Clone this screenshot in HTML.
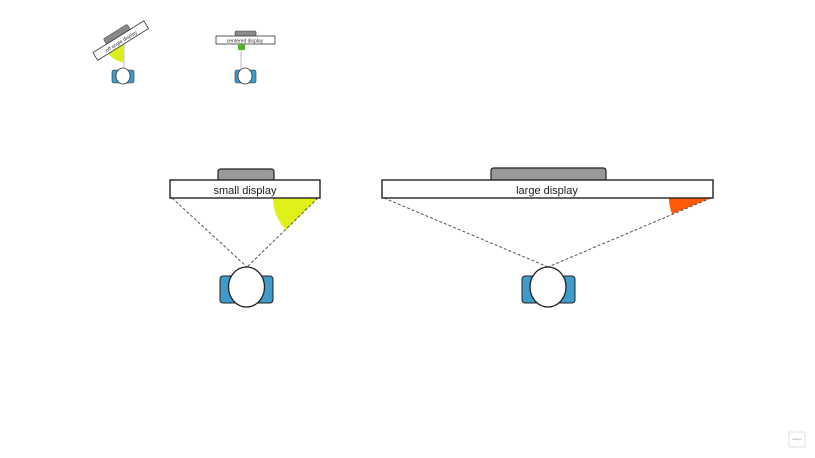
<!DOCTYPE html>
<html><head><style>body{margin:0;background:#fff}svg{display:block}</style></head><body>
<svg width="815" height="458" viewBox="0 0 815 458" xmlns="http://www.w3.org/2000/svg" font-family="Liberation Sans, sans-serif">
<rect width="815" height="458" fill="#fff"/>
<!-- small icon 1 -->
<line x1="124" y1="45" x2="124" y2="69" stroke="#bbb" stroke-width="1"/>
<path d="M124,44 L109,54 A18,18 0 0 0 124,62 Z" fill="#d9ee1c"/>
<g transform="rotate(-32 121 41)">
<rect x="107" y="30" width="28" height="6" rx="1.5" fill="#8a8a8a" stroke="#444" stroke-width="0.6"/>
<rect x="91" y="36" width="60" height="9" fill="#fff" stroke="#333" stroke-width="0.8"/>
<text x="121" y="43" font-size="5" text-anchor="middle" fill="#333">off angle display</text>
</g>
<rect x="112" y="70" width="22" height="13" rx="2" fill="#3f9bc9" stroke="#333" stroke-width="0.6"/>
<ellipse cx="123" cy="76" rx="7" ry="8" fill="#fff" stroke="#333" stroke-width="0.8"/>
<!-- small icon 2 -->
<line x1="241" y1="50" x2="241" y2="69" stroke="#bbb" stroke-width="1"/>
<rect x="235" y="31" width="21" height="6" rx="1.5" fill="#8a8a8a" stroke="#444" stroke-width="0.6"/>
<rect x="216" y="36" width="59" height="8" fill="#fff" stroke="#333" stroke-width="0.8"/>
<text x="245" y="42.5" font-size="5" text-anchor="middle" fill="#333">centered display</text>
<rect x="238" y="44" width="7" height="6" fill="#58b030"/>
<rect x="235" y="70" width="21" height="13" rx="2" fill="#3f9bc9" stroke="#333" stroke-width="0.6"/>
<ellipse cx="245" cy="76" rx="7" ry="8" fill="#fff" stroke="#333" stroke-width="0.8"/>
<!-- small display -->
<path d="M318,198 L273,198 A45,45 0 0 0 286,230 Z" fill="#dff01a"/>
<line x1="172" y1="198" x2="247" y2="267" stroke="#555" stroke-dasharray="3,2"/>
<line x1="318" y1="198" x2="247" y2="267" stroke="#555" stroke-dasharray="3,2"/>
<path d="M218,181 V172 Q218,169 221,169 H271 Q274,169 274,172 V181 Z" fill="#9a9a9a" stroke="#222" stroke-width="1.2"/>
<rect x="170" y="180" width="150" height="18" fill="#fff" stroke="#222" stroke-width="1.4"/>
<text x="245" y="194" font-size="11" text-anchor="middle" fill="#222">small display</text>
<rect x="220" y="276" width="53" height="27" rx="3" fill="#3f9bc9" stroke="#222" stroke-width="1"/>
<ellipse cx="246.5" cy="287" rx="18" ry="20" fill="#fff" stroke="#222" stroke-width="1.3"/>
<!-- large display -->
<path d="M711,198 L669,198 A42,42 0 0 0 672,214 Z" fill="#ff5a0a"/>
<line x1="384" y1="198" x2="548" y2="267" stroke="#555" stroke-dasharray="3,2"/>
<line x1="711" y1="198" x2="548" y2="267" stroke="#555" stroke-dasharray="3,2"/>
<path d="M491,181 V171 Q491,168 494,168 H603 Q606,168 606,171 V181 Z" fill="#9a9a9a" stroke="#222" stroke-width="1.2"/>
<rect x="382" y="180" width="331" height="18" fill="#fff" stroke="#222" stroke-width="1.4"/>
<text x="547" y="194" font-size="11" text-anchor="middle" fill="#222">large display</text>
<rect x="522" y="276" width="53" height="27" rx="3" fill="#3f9bc9" stroke="#222" stroke-width="1"/>
<ellipse cx="548" cy="287" rx="18" ry="20" fill="#fff" stroke="#222" stroke-width="1.3"/>
<!-- logo -->
<rect x="789" y="432" width="16" height="15" fill="none" stroke="#ccc" stroke-width="0.6"/>
<text x="797" y="440" font-size="3" text-anchor="middle" fill="#999">design</text>
</svg>
</body></html>
